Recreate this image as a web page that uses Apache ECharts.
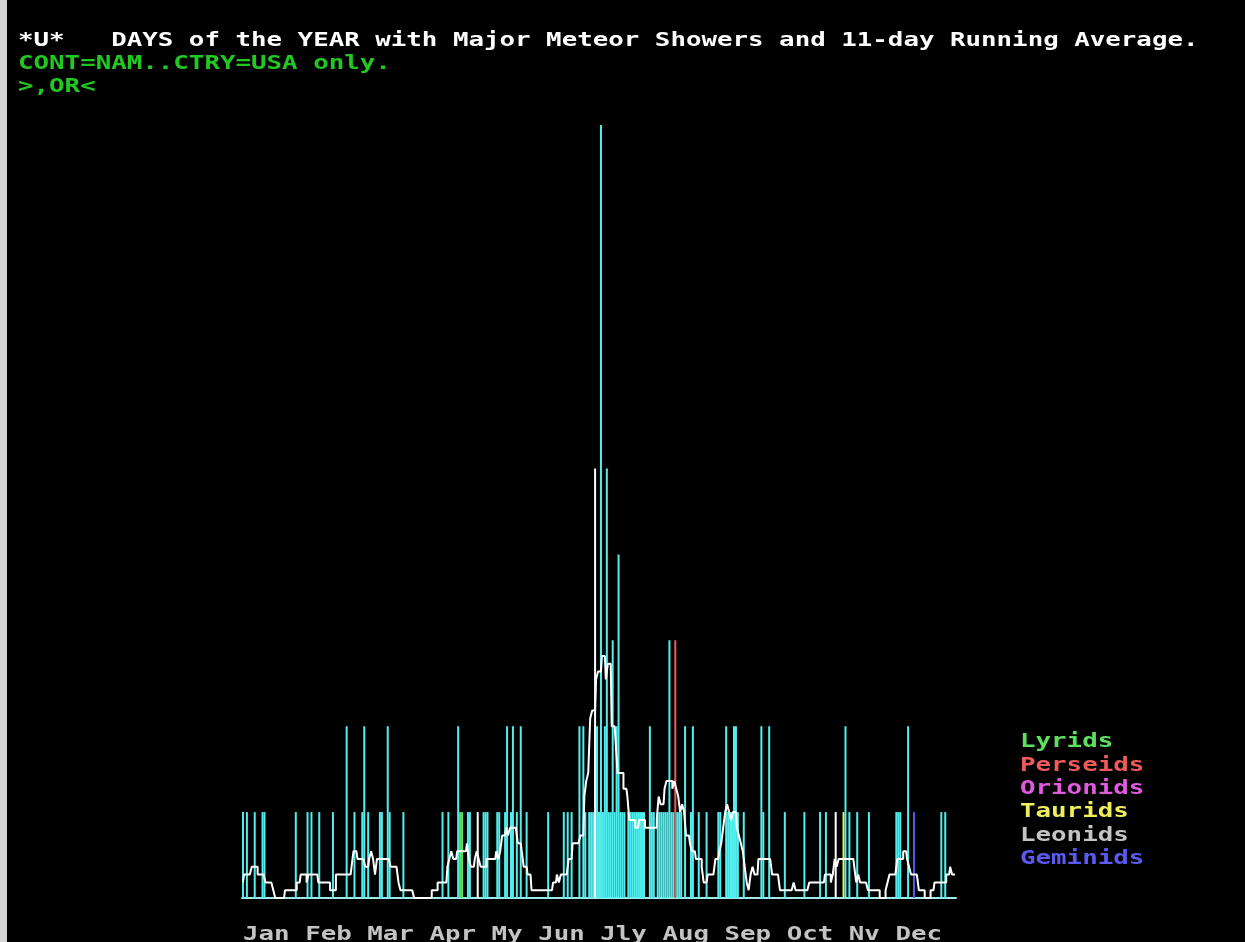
<!DOCTYPE html>
<html><head><meta charset="utf-8">
<script src="https://cdn.jsdelivr.net/npm/echarts/dist/echarts.min.js"></script>
<style>html,body{margin:0;padding:0;background:#000;} #c{width:1245px;height:942px;}</style>
</head><body><div id="c"></div>
<script>
// ---- data: number of major-shower days per calendar day ----
const monthLabels = ['Jan','Feb','Mar','Apr','My','Jun','Jly','Aug','Sep','Oct','Nv','Dec'];
const jan = [1,0,1,0,0,0,1,0,0,0, 1,1,0,0,0,0,0,0,0,0, 0,0,0,0,0,0,0,1,0,0,0];
const feb = [0,0,1,0,1,0,0,0,1,0, 0,0,0,0,0,1,0,0,0,0, 0,0,2,0,0,0,1,0];
const mar = [0,0,1,2,0,1,0,0,0,0, 0,1,1,0,0,2,1,0,0,0, 0,0,0,1,0,0,0,0,0,0,0];
const apr = [0,0,0,0,0,0,0,0,0,0, 0,0,1,0,0,1,0,0,0,0, 2,1,1,0,0,1,1,0,0,0];
const may = [1,0,0,1,1,1,0,0,0,0, 1,1,0,0,1,2,0,1,2,0, 1,0,2,0,0,1,0,0,0,0,0];
const jun = [0,0,0,0,0,1,0,0,0,0, 0,0,0,1,0,1,0,1,0,0, 0,2,0,2,1,0,1,1,1,5];
const jul = [2,1,9,1,2,5,1,1,3,1, 2,4,1,1,1,0,1,1,1,1, 1,1,1,1,1,0,0,2,1,1,0];
const aug = [1,1,1,1,1,1,3,1,1,3, 1,1,1,0,2,0,0,1,2,0, 0,1,0,0,0,1,0,0,0,0,0];
const sep = [1,1,0,0,2,1,1,1,2,2, 1,0,0,1,0,0,0,0,0,0, 0,0,2,1,0,0,2,0,0,0];
const oct = [0,0,0,0,1,0,0,0,0,0, 0,0,0,0,1,0,0,0,0,0, 0,0,1,0,0,1,0,0,0,0,1];
const nov = [0,0,0,1,2,0,1,0,0,0, 1,0,0,0,0,0,1,0,0,0, 0,0,0,0,0,0,0,0,0,0];
const dec = [1,1,1,0,0,0,2,0,0,1, 0,0,0,0,0,0,0,0,0,0, 0,0,0,1,0,1,0,0,0,0,0];
// shower peak days that are drawn in their own colour: [month index, day of month]
const lyridsDays   = [[3,22],[3,23]];
const perseidsDays = [[7,10]];
const orionidsDays = [];
const tauridsDays  = [[10,4]];
const leonidsDays  = [];
const geminidsDays = [[11,10]];
const whiteDays    = [[4,1],[5,30],[9,31]];
const showerNames  = ['Lyrids','Perseids','Orionids','Taurids','Leonids','Geminids'];
const titleText = '*U*   DAYS of the YEAR with Major Meteor Showers and 11-day Running Average.';
const subText1 = 'CONT=NAM..CTRY=USA only.';
const subText2 = '>,OR<';

// ---- build ----
const months = [jan,feb,mar,apr,may,jun,jul,aug,sep,oct,nov,dec];
const counts = [].concat(...months);
const monthStart = []; let acc = 0; months.forEach(m => { monthStart.push(acc); acc += m.length; });
const dayIdx = ([m, d]) => monthStart[m] + d - 1;
const N = counts.length;
const cats = counts.map((_, i) => String(i + 1));

const CYAN = '#52eeee';
const showerColors = {Lyrids:'#5ee05e', Perseids:'#f05a5a', Orionids:'#e05ae0', Taurids:'#eeee5a', Leonids:'#c4c4c4', Geminids:'#5a5af0'};
const colorOf = new Array(N).fill(CYAN);
[[lyridsDays,'Lyrids'],[perseidsDays,'Perseids'],[orionidsDays,'Orionids'],[tauridsDays,'Taurids'],[leonidsDays,'Leonids'],[geminidsDays,'Geminids']]
  .forEach(([list, nm]) => list.forEach(p => colorOf[dayIdx(p)] = showerColors[nm]));
whiteDays.forEach(p => colorOf[dayIdx(p)] = '#ffffff');

// 11-day centred running average (year treated as circular)
const runAvg = counts.map((_, i) => {
  let s = 0; for (let k = -5; k <= 5; k++) s += counts[(i + k + N) % N];
  return +(s / 11).toFixed(4);
});

const FONT = 'bold 20px "DejaVu Sans Mono"';
const SX = 1.29;
function txt(text, x, y, fill) {
  return {type:'text', x, y, scaleX:SX, scaleY:1, silent:true,
    style:{text, fill, font:FONT, textAlign:'left', textVerticalAlign:'middle', align:'left', verticalAlign:'middle'}};
}
const graphics = [
  {type:'rect', silent:true, shape:{x:0, y:0, width:7, height:942}, style:{fill:'#d6d6d6'}},
  txt(titleText, 18, 41, '#ffffff'),
  txt(subText1, 18, 64, '#22c822'),
  txt(subText2, 18, 87, '#22c822'),
  txt(monthLabels.join(' '), 243, 935, '#c4c4c4')
];
showerNames.forEach((nm, k) => graphics.push(txt(nm, 1020, 742 + k * 23.4, showerColors[nm])));

const chart = echarts.init(document.getElementById('c'), null, {renderer:'canvas'});
chart.setOption({
  backgroundColor:'#000',
  animation:false,
  grid:{left:242, right:289, top:125, bottom:44, containLabel:false},
  xAxis:{type:'category', data:cats, boundaryGap:true,
    axisLine:{show:true, lineStyle:{color:'#9eeaea', width:2}},
    axisTick:{show:false}, axisLabel:{show:false}, splitLine:{show:false}},
  yAxis:{type:'value', min:0, max:9, show:false, splitLine:{show:false}},
  series:[
    {type:'bar', barWidth:2, z:2,
     data:counts.map((v, i) => ({value:v, itemStyle:{color:colorOf[i]}}))},
    {type:'line', step:'middle', data:runAvg, showSymbol:false, z:4,
     lineStyle:{color:'#ffffff', width:2}}
  ],
  graphic:graphics
});
</script></body></html>
